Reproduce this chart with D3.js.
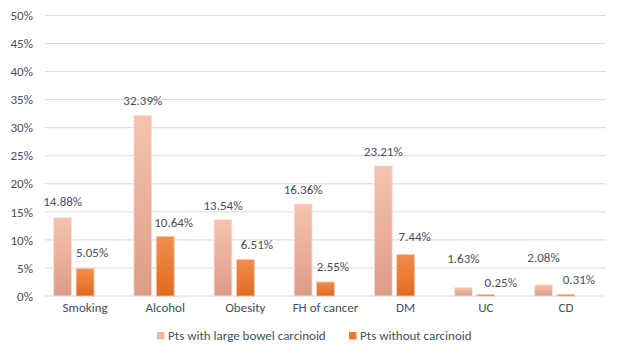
<!DOCTYPE html>
<html lang="en">
<head>
<meta charset="UTF-8">
<title>Risk factors</title>
<script src="https://d3js.org/d3.v7.min.js"></script>
<style>
html, body { margin: 0; padding: 0; background: #ffffff; }
* { font-family: Carlito, Lato, sans-serif; }
.tick text, .lbl, .legend text { fill: #45505f; }
</style>
</head>
<body>
<svg id="canvas"></svg>
<script>
// data
let categories = ['Smoking', 'Alcohol', 'Obesity', 'FH of cancer', 'DM', 'UC', 'CD']
let seriesNames = ['Pts with large bowel carcinoid', 'Pts without carcinoid']
let withCarcinoid = [14.0, 32.2, 13.6, 16.4, 23.2, 1.5, 2.0]
let withoutCarcinoid = [4.9, 10.6, 6.5, 2.5, 7.4, 0.25, 0.3]
let withLabels = ['14.88%', '32.39%', '13.54%', '16.36%', '23.21%', '1.63%', '2.08%']
let withoutLabels = ['5.05%', '10.64%', '6.51%', '2.55%', '7.44%', '0.25%', '0.31%']
let yTicks = [0, 5, 10, 15, 20, 25, 30, 35, 40, 45, 50]

let width = 617
let height = 353
let plotLeft = 45
let plotRight = 606
let plotTop = 15.5
let plotBottom = 296

// hand placed data labels in the original
let nudgeWith = [[0, -1], [0, 0], [0, 0], [0, 0], [0, 0], [0, -15], [0, -13]]
let nudgeWithout = [[7, -2], [8.5, 0], [11.5, -1], [7.5, -1], [9, -3], [15, 2], [13, 0]]

let svg = d3.select('svg').attr('width', width).attr('height', height)

let defs = svg.append('defs')
let makeGrad = (id, c1, c2) => {
    let g = defs.append('linearGradient').attr('id', id)
        .attr('x1', 0).attr('y1', 0).attr('x2', 0).attr('y2', 1)
    g.append('stop').attr('offset', '0%').attr('stop-color', c1)
    g.append('stop').attr('offset', '100%').attr('stop-color', c2)
}
makeGrad('gLight', '#f6c3ae', '#dd9c87')
makeGrad('gDark', '#f08e4f', '#e26a1f')

let xScale = d3.scaleBand().domain(categories).range([plotLeft, plotRight])
// third slot is an empty series in the source chart
let xInner = d3.scaleBand().domain(['with', 'without', 'none'])
    .range([0, xScale.bandwidth()]).paddingInner(0.2).paddingOuter(0.39)
let yScale = d3.scaleLinear().domain([0, 50]).range([plotBottom, plotTop])

// gridlines
svg.append('g')
    .selectAll('line')
    .data(yTicks)
    .enter()
    .append('line')
    .attr('x1', plotLeft).attr('x2', plotRight)
    .attr('y1', d => yScale(d)).attr('y2', d => yScale(d))
    .attr('stroke', '#d9d9d9').attr('stroke-width', 1)

let yAxis = d3.axisLeft(yScale).tickValues(yTicks).tickSize(0).tickPadding(12)
    .tickFormat(d => d + '%')
let gy = svg.append('g').attr('transform', 'translate(' + plotLeft + ',0)').call(yAxis)
gy.select('.domain').remove()
gy.selectAll('text').style('font-size', '13px')

let xAxis = d3.axisBottom(xScale).tickSize(0).tickPadding(7)
let gx = svg.append('g').attr('transform', 'translate(0,' + plotBottom + ')').call(xAxis)
gx.select('.domain').remove()
gx.selectAll('text').style('font-size', '13px')

let groups = svg.selectAll('.grp')
    .data(categories)
    .enter()
    .append('g')
    .attr('class', 'grp')
    .attr('transform', d => 'translate(' + xScale(d) + ',0)')

groups.append('rect')
    .attr('x', xInner('with'))
    .attr('width', xInner.bandwidth())
    .attr('y', (d, i) => yScale(withCarcinoid[i]))
    .attr('height', (d, i) => plotBottom - yScale(withCarcinoid[i]))
    .attr('fill', 'url(#gLight)')
    .attr('stroke', '#fbe3d8').attr('stroke-width', 0.8)

groups.append('rect')
    .attr('x', xInner('without'))
    .attr('width', xInner.bandwidth())
    .attr('y', (d, i) => yScale(withoutCarcinoid[i]))
    .attr('height', (d, i) => plotBottom - yScale(withoutCarcinoid[i]))
    .attr('fill', 'url(#gDark)')
    .attr('stroke', '#f7c9a8').attr('stroke-width', 0.8)

groups.append('text')
    .attr('class', 'lbl')
    .attr('text-anchor', 'middle')
    .style('font-size', '13px')
    .attr('x', (d, i) => xInner('with') + xInner.bandwidth() / 2 + nudgeWith[i][0])
    .attr('y', (d, i) => yScale(withCarcinoid[i]) - 10 + nudgeWith[i][1])
    .text((d, i) => withLabels[i])

groups.append('text')
    .attr('class', 'lbl')
    .attr('text-anchor', 'middle')
    .style('font-size', '13px')
    .attr('x', (d, i) => xInner('without') + xInner.bandwidth() / 2 + nudgeWithout[i][0])
    .attr('y', (d, i) => yScale(withoutCarcinoid[i]) - 10 + nudgeWithout[i][1])
    .text((d, i) => withoutLabels[i])

// legend
let legend = svg.append('g').attr('class', 'legend')
let legendX = [157, 349]
let legendCol = ['#f3b59c', '#ec7a32']
seriesNames.forEach((name, i) => {
    legend.append('rect')
        .attr('x', legendX[i]).attr('y', 332)
        .attr('width', 7.5).attr('height', 7.5)
        .attr('fill', legendCol[i])
    legend.append('text')
        .attr('x', legendX[i] + 11).attr('y', 340)
        .style('font-size', '13px')
        .text(name)
})
</script>
</body>
</html>
